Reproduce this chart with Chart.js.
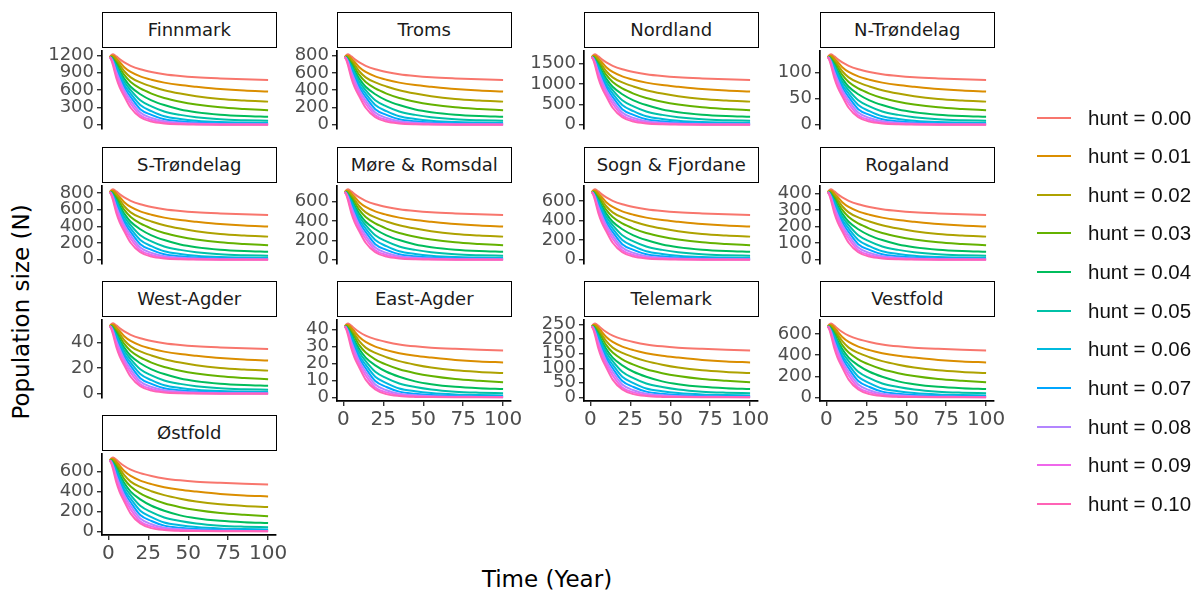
<!DOCTYPE html>
<html><head><meta charset="utf-8">
<script src="https://cdn.jsdelivr.net/npm/chart.js@4.4.1/dist/chart.umd.min.js"></script>
<style>
html,body{margin:0;padding:0;background:#fff;}
body{width:1203px;height:596px;position:relative;overflow:hidden;font-family:"DejaVu Sans",sans-serif;}
.strip{position:absolute;box-sizing:border-box;border:1.7px solid #000;background:#fff;display:flex;align-items:center;justify-content:center;font-size:18px;color:#1a1a1a;white-space:nowrap;}
canvas{position:absolute;}
.title{position:absolute;font-size:23px;color:#000;white-space:nowrap;}
.legline{position:absolute;height:2px;width:34px;}
.legtext{position:absolute;font-family:"Liberation Sans",Arial,sans-serif;font-size:20.5px;color:#111;white-space:nowrap;line-height:24px;}
</style></head><body>
<script>
// ---- data ----
const years = [1, 2, 3, 5, 7, 10, 14, 20, 27, 35, 45, 55, 70, 85, 100];
const huntLevels = ['0.00','0.01','0.02','0.03','0.04','0.05','0.06','0.07','0.08','0.09','0.10'];
// population relative to the year-1 value, one list per hunt level
const shareHunt000 = [1.00, 1.03, 1.04, 1.01, 0.97, 0.92, 0.87, 0.82, 0.78, 0.745, 0.718, 0.70, 0.683, 0.67, 0.66];
const shareHunt001 = [1.00, 1.02, 1.02, 0.98, 0.93, 0.85, 0.78, 0.715, 0.665, 0.622, 0.585, 0.56, 0.527, 0.505, 0.492];
const shareHunt002 = [1.00, 1.01, 1.00, 0.95, 0.89, 0.79, 0.70, 0.625, 0.565, 0.51, 0.46, 0.42, 0.38, 0.357, 0.341];
const shareHunt003 = [1.00, 1.00, 0.98, 0.92, 0.85, 0.735, 0.63, 0.535, 0.46, 0.395, 0.34, 0.30, 0.258, 0.233, 0.213];
const shareHunt004 = [1.00, 0.99, 0.96, 0.89, 0.80, 0.68, 0.56, 0.45, 0.36, 0.29, 0.225, 0.185, 0.148, 0.128, 0.117];
const shareHunt005 = [1.00, 0.985, 0.95, 0.87, 0.77, 0.635, 0.51, 0.36, 0.27, 0.195, 0.145, 0.11, 0.08, 0.066, 0.058];
const shareHunt006 = [1.00, 0.98, 0.94, 0.845, 0.74, 0.59, 0.46, 0.29, 0.20, 0.125, 0.085, 0.06, 0.04, 0.032, 0.027];
const shareHunt007 = [1.00, 0.975, 0.93, 0.815, 0.705, 0.55, 0.41, 0.23, 0.145, 0.08, 0.05, 0.032, 0.019, 0.013, 0.010];
const shareHunt008 = [1.00, 0.97, 0.92, 0.78, 0.665, 0.51, 0.36, 0.18, 0.10, 0.05, 0.028, 0.016, 0.008, 0.006, 0.004];
const shareHunt009 = [1.00, 0.96, 0.90, 0.735, 0.615, 0.465, 0.31, 0.14, 0.07, 0.03, 0.014, 0.008, 0.004, 0.003, 0.002];
const shareHunt010 = [1.00, 0.95, 0.87, 0.69, 0.56, 0.42, 0.25, 0.11, 0.045, 0.018, 0.006, 0.003, 0.001, 0.0005, 0.0003];
const regions = ['Finnmark','Troms','Nordland','N-Trøndelag','S-Trøndelag','Møre & Romsdal','Sogn & Fjordane','Rogaland','West-Agder','East-Agder','Telemark','Vestfold','Østfold'];
// population at year 1 in each region
const regionStart = [1172, 783, 1662, 130, 813, 700, 690, 408, 53, 41.9, 244, 673, 715];
const ticksFinnmark = [0, 300, 600, 900, 1200];
const ticksTroms = [0, 200, 400, 600, 800];
const ticksNordland = [0, 500, 1000, 1500];
const ticksNTrondelag = [0, 50, 100];
const ticksSTrondelag = [0, 200, 400, 600, 800];
const ticksMore = [0, 200, 400, 600];
const ticksSogn = [0, 200, 400, 600];
const ticksRogaland = [0, 100, 200, 300, 400];
const ticksWestAgder = [0, 20, 40];
const ticksEastAgder = [0, 10, 20, 30, 40];
const ticksTelemark = [0, 50, 100, 150, 200, 250];
const ticksVestfold = [0, 200, 400, 600];
const ticksOstfold = [0, 200, 400, 600];
const xTicks = [0, 25, 50, 75, 100];

// ---- styling / layout ----
const huntShares = [shareHunt000, shareHunt001, shareHunt002, shareHunt003, shareHunt004, shareHunt005, shareHunt006, shareHunt007, shareHunt008, shareHunt009, shareHunt010];
const regionTicks = [ticksFinnmark, ticksTroms, ticksNordland, ticksNTrondelag, ticksSTrondelag, ticksMore, ticksSogn, ticksRogaland, ticksWestAgder, ticksEastAgder, ticksTelemark, ticksVestfold, ticksOstfold];
const huntColors = ['#F8766D','#DB8E00','#AEA200','#64B200','#00BD5C','#00C1A7','#00BADE','#00A6FF','#B385FF','#EF67EB','#FF63B6'];
const colLeft = [102, 337, 584, 820];
const rowTop = [47, 182, 316, 450];
const PW = 174, PH = 85, LW = 60, RP = 25, TP = 10;

function el(cls, css, text) {
  const d = document.createElement('div');
  d.className = cls;
  Object.assign(d.style, css);
  if (text !== undefined) d.textContent = text;
  document.body.appendChild(d);
  return d;
}

regions.forEach((name, i) => {
  const row = Math.floor(i / 4), col = i % 4;
  const left = colLeft[col], top = rowTop[row];
  const showX = i >= 9;
  el('strip', {left: (left - 0.5) + 'px', top: (top - 35.5) + 'px', width: (PW + 1.5) + 'px', height: '36px'}, name);
  const cv = document.createElement('canvas');
  const cw = LW + PW + RP, ch = TP + PH + (showX ? 35 : 10);
  cv.width = cw; cv.height = ch;
  cv.style.left = (left - LW) + 'px';
  cv.style.top = (top - TP) + 'px';
  cv.style.width = cw + 'px'; cv.style.height = ch + 'px';
  document.body.appendChild(cv);
  const start = regionStart[i];
  const datasets = huntShares.map((sh, j) => ({
    label: 'hunt = ' + huntLevels[j],
    data: years.map((yr, k) => ({x: yr, y: sh[k] * start})),
    borderColor: huntColors[j],
    borderWidth: 2,
    pointRadius: 0,
    fill: false,
    cubicInterpolationMode: 'monotone',
    order: 10 - j
  }));
  let dmin = Infinity, dmax = -Infinity;
  datasets.forEach(ds => ds.data.forEach(p => { dmin = Math.min(dmin, p.y); dmax = Math.max(dmax, p.y); }));
  const R = dmax - dmin;
  const yt = regionTicks[i];
  new Chart(cv, {
    type: 'line',
    data: {datasets},
    options: {
      responsive: false, animation: false, devicePixelRatio: 1,
      layout: {padding: {left: 0, right: RP, top: TP, bottom: showX ? 0 : 10}},
      plugins: {legend: {display: false}, tooltip: {enabled: false}},
      events: [],
      scales: {
        x: {
          type: 'linear', min: -3.95, max: 104.95, display: showX,
          afterFit: s => { s.height = showX ? 35 : 0; },
          afterBuildTicks: s => { s.ticks = xTicks.map(v => ({value: v})); },
          grid: {display: true, drawOnChartArea: false, drawTicks: true, tickLength: 5, color: '#333', lineWidth: 1.4},
          border: {display: true, color: '#000', width: 1.7},
          ticks: {font: {family: 'DejaVu Sans', size: 20}, color: '#4D4D4D', padding: 2, maxRotation: 0, autoSkip: false, callback: v => String(v)}
        },
        y: {
          type: 'linear', min: dmin - 0.05 * R, max: dmax + 0.05 * R,
          afterFit: s => { s.width = LW; },
          afterBuildTicks: s => { s.ticks = yt.map(v => ({value: v})); },
          grid: {display: true, drawOnChartArea: false, drawTicks: true, tickLength: 5, color: '#333', lineWidth: 1.4},
          border: {display: true, color: '#000', width: 1.7},
          ticks: {font: {family: 'DejaVu Sans', size: 18}, color: '#4D4D4D', padding: 3, autoSkip: false, callback: v => String(v)}
        }
      }
    }
  });
});

// axis titles
el('title', {left: '21px', top: '312px', transform: 'translate(-50%,-50%) rotate(-90deg)'}, 'Population size (N)');
el('title', {left: '547px', top: '579px', transform: 'translate(-50%,-50%)'}, 'Time (Year)');

// legend
huntLevels.forEach((h, j) => {
  const cy = 117.5 + j * 38.65;
  el('legline', {left: '1037px', top: (cy - 1) + 'px', background: huntColors[j]});
  el('legtext', {left: '1088px', top: (cy - 12) + 'px'}, 'hunt = ' + h);
});
</script>
</body></html>
